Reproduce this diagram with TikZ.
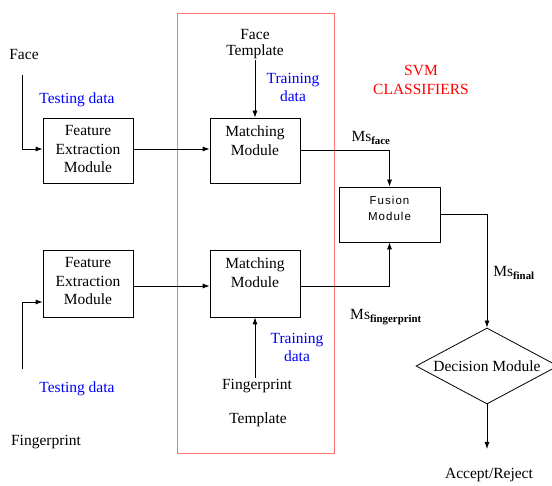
\documentclass[tikz,border=0pt]{standalone}
\usepackage{fontspec}
\setmainfont{Liberation Serif}
\newfontfamily\fusionfont[LetterSpace=9]{Liberation Sans}
\usetikzlibrary{positioning,shapes.geometric,arrows.meta}

\tikzset{
  box/.style = {draw, line width=.8pt, minimum width=90pt, minimum height=65pt, inner sep=0pt},
  txt/.style = {align=center, inner sep=1pt, font=\fontsize{15.5}{18.5}\selectfont},
  bluetxt/.style = {txt, text=blue},
  arr/.style = {line width=.8pt, -{Latex[length=7pt,width=5pt]}},
}

\begin{document}
\begin{tikzpicture}[x=1pt, y=-1pt]
\useasboundingbox (0,0) rectangle (552,486);

% SVM part
\draw[red!55, line width=.8pt] (177,13) rectangle (334,453);
\node[txt, text=red] (svm) at (421,80) {SVM\\CLASSIFIERS};

% boxes
\node[box] (fe1) at (88,150.5) {};
\node[txt, below=7pt of fe1.north] (fe1lbl) {Feature\\Extraction\\Module};
\node[box] (match1) at (255,150.5) {};
\node[txt, below=7pt of match1.north] (match1lbl) {Matching\\Module};
\node[box, minimum height=67pt] (fe2) at (88,283.5) {};
\node[txt, below=7pt of fe2.north] (fe2lbl) {Feature\\Extraction\\Module};
\node[box, minimum height=67pt] (match2) at (255,283.5) {};
\node[txt, below=7pt of match2.north] (match2lbl) {Matching\\Module};
\node[box, minimum width=101pt, minimum height=55pt] (fusion) at (389.5,214.5) {};
\node[align=center, inner sep=0pt, font=\fusionfont\fontsize{11.5}{16}\selectfont,
  below=9pt of fusion.north] (fusionlbl) {Fusion\\Module};
\node[draw, line width=.8pt, shape=diamond, aspect=1.87, minimum width=142pt,
  minimum height=76pt, inner sep=0pt, txt] (decision) at (487,366) {Decision Module};

% labels
\node[txt] (face) at (24,55) {Face};
\node[txt] (fp) at (46,442) {Fingerprint};
\node[bluetxt] (test1) at (77,100) {Testing data};
\node[bluetxt] (test2) at (77,389) {Testing data};
\node[txt, font=\fontsize{15.5}{15.5}\selectfont] (facetpl) at (255,44) {Face\\Template};
\node[txt] (fptpl) at (257,386) {Fingerprint};
\node[txt] (fptpl2) at (258,420) {Template};
\node[bluetxt] (train1) at (293,87.5) {Training\\data};
\node[bluetxt] (train2) at (297,347.5) {Training\\data};
\node[txt] (msface) at (371,138) {Ms\textsubscript{\bfseries face}};
\node[txt] (msfp) at (386,317) {Ms\textsubscript{\bfseries fingerprint}};
\node[txt] (msfinal) at (514,273) {Ms\textsubscript{\bfseries final}};
\node[txt] (accept) at (489,475) {Accept/Reject};

\coordinate (facein) at (22,75);
\coordinate (fpin) at (22,369);
\coordinate (out) at (487,449);

% connectors
\draw[arr] (facein) |- ([yshift=1.5pt]fe1.west);
\draw[arr] (fpin) |- ([yshift=-18.5pt]fe2.west);
\draw[arr] ([yshift=1.5pt]fe1.east) -- ([yshift=1.5pt]match1.west);
\draw[arr] ([yshift=-2.5pt]fe2.east) -- ([yshift=-2.5pt]match2.west);
\draw[arr] (facetpl.south) -- (match1.north);
\draw[arr] (match2.south |- fptpl.north) -- (match2.south);
\draw[arr] (match1.east) -| (fusion.north);
\draw[arr] ([yshift=-2.5pt]match2.east) -| (fusion.south);
\draw[arr] (fusion.east) -| (decision.north);
\draw[arr] (decision.south) -- (out);
\end{tikzpicture}
\end{document}
